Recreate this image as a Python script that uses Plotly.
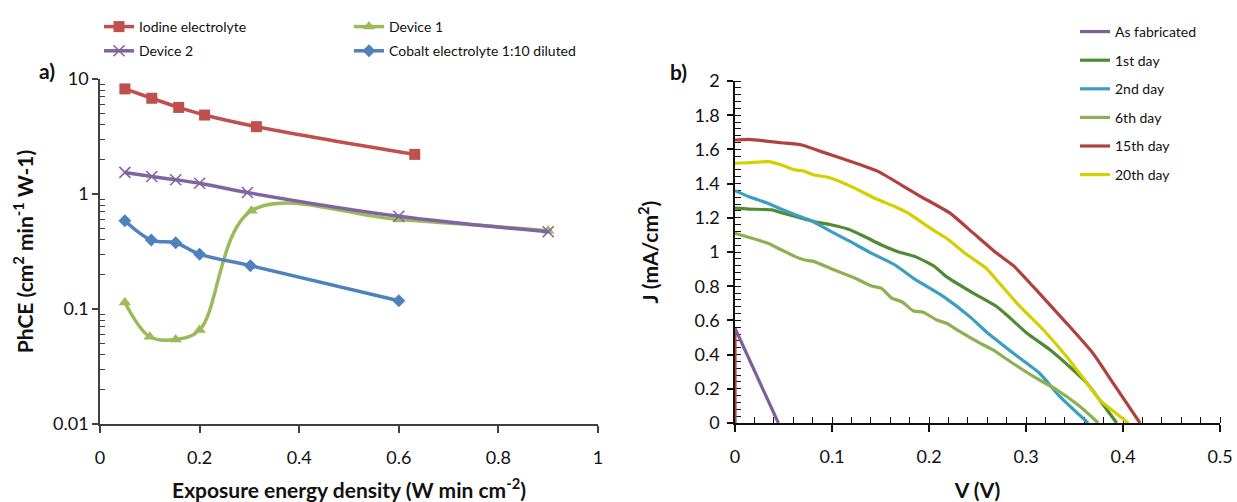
import plotly.graph_objects as go

W, H = 1237, 502

# ---------------- Panel a) data ----------------
iodine_x = [0.05, 0.104, 0.158, 0.21, 0.314, 0.632]
iodine_y = [8.2, 6.8, 5.66, 4.86, 3.85, 2.21]

device1_x = [0.05, 0.1, 0.152, 0.2, 0.304, 0.6, 0.9]
device1_y = [0.114, 0.0574, 0.0544, 0.0656, 0.716, 0.60, 0.48]

device2_x = [0.05, 0.104, 0.152, 0.2, 0.296, 0.6, 0.9]
device2_y = [1.54, 1.42, 1.33, 1.24, 1.03, 0.64, 0.47]

cobalt_x = [0.05, 0.103, 0.152, 0.2, 0.302, 0.6]
cobalt_y = [0.586, 0.398, 0.377, 0.30, 0.238, 0.118]

a_ytickvals = [0.01, 0.1, 1, 10]
a_yticktext = ["0.01", "0.1", "1", "10"]

# ---------------- Panel b) data ----------------
asfab_v = [0, 0.0447]
asfab_j = [0.554, 0]

day1_v = [0, 0.014, 0.038, 0.048, 0.065, 0.082, 0.1, 0.117, 0.134, 0.151, 0.168, 0.186,
          0.206, 0.218, 0.246, 0.27, 0.284, 0.301, 0.325, 0.345, 0.363, 0.376, 0.3935]
day1_j = [1.256, 1.251, 1.246, 1.23, 1.203, 1.177, 1.158, 1.133, 1.089, 1.041, 1.002, 0.973,
          0.914, 0.856, 0.758, 0.68, 0.612, 0.525, 0.427, 0.329, 0.232, 0.135, 0]

day2_v = [0, 0.014, 0.034, 0.048, 0.069, 0.079, 0.096, 0.117, 0.141, 0.165, 0.184, 0.215,
          0.242, 0.259, 0.287, 0.314, 0.335, 0.364]
day2_j = [1.359, 1.324, 1.285, 1.25, 1.203, 1.183, 1.129, 1.066, 0.992, 0.924, 0.846, 0.739,
          0.622, 0.534, 0.408, 0.291, 0.154, 0]

day6_v = [0, 0.014, 0.034, 0.048, 0.062, 0.072, 0.081, 0.1, 0.124, 0.141, 0.151, 0.162, 0.172,
          0.184, 0.194, 0.208, 0.218, 0.232, 0.253, 0.266, 0.284, 0.308, 0.332, 0.356, 0.3745]
day6_j = [1.109, 1.086, 1.051, 1.012, 0.973, 0.953, 0.945, 0.9, 0.846, 0.801, 0.787, 0.729, 0.709,
          0.655, 0.648, 0.602, 0.583, 0.534, 0.466, 0.427, 0.358, 0.271, 0.193, 0.095, 0]

day15_v = [0, 0, None, 0, 0.014, 0.048, 0.069, 0.089, 0.127, 0.148, 0.172, 0.192, 0.222, 0.246,
           0.270, 0.287, 0.3075, 0.342, 0.369, 0.39, 0.4175]
day15_j = [0, 0.53, None, 1.655, 1.659, 1.639, 1.626, 1.587, 1.515, 1.47, 1.39, 1.323, 1.226, 1.109,
           0.992, 0.92, 0.797, 0.583, 0.408, 0.232, 0]

day20_v = [0, 0.014, 0.034, 0.048, 0.062, 0.07, 0.082, 0.096, 0.124, 0.144, 0.165, 0.179, 0.199,
           0.218, 0.239, 0.259, 0.273, 0.294, 0.318, 0.342, 0.363, 0.376, 0.4055]
day20_j = [1.519, 1.522, 1.528, 1.509, 1.48, 1.475, 1.45, 1.437, 1.372, 1.314, 1.265, 1.226, 1.148,
           1.08, 0.985, 0.905, 0.815, 0.68, 0.544, 0.388, 0.232, 0.135, 0]

FONT = "Lato"
AX = "#404040"

fig = go.Figure()

def a_trace(x, y, name, color, symbol, size, legend, group, mline=None):
    marker = dict(symbol=symbol, size=size, color=color)
    if mline:
        marker["line"] = dict(width=1.6, color=color)
    return go.Scatter(
        x=x, y=y, name=name, mode="lines+markers",
        line=dict(color=color, width=3.5, shape="spline", smoothing=1.0),
        marker=marker, xaxis="x", yaxis="y", legend=legend, legendgroup=group)

fig.add_trace(a_trace(iodine_x, iodine_y, "Iodine electrolyte", "#C0504D", "square", 11, "legend", "g1"))
fig.add_trace(a_trace(device1_x, device1_y, "Device 1", "#9BBB59", "triangle-up", 11, "legend2", "g3"))
fig.add_trace(a_trace(device2_x, device2_y, "Device 2", "#8064A2", "x-thin", 11, "legend", "g2", mline=True))
fig.add_trace(a_trace(cobalt_x, cobalt_y, "Cobalt electrolyte 1:10 diluted", "#4F81BD", "diamond", 10, "legend2", "g4"))

def b_trace(v, j, name, color, group):
    fig.add_trace(go.Scatter(
        x=v, y=j, name=name, mode="lines", connectgaps=False,
        line=dict(color=color, width=3.2, shape="spline", smoothing=0.5),
        xaxis="x2", yaxis="y2", legend="legend3", legendgroup=group))

b_trace(asfab_v, asfab_j, "As fabricated", "#7E5EA0", "h1")
b_trace(day1_v, day1_j, "1st day", "#4F8A34", "h2")
b_trace(day2_v, day2_j, "2nd day", "#3C9EC0", "h3")
b_trace(day6_v, day6_j, "6th day", "#8DB050", "h4")
b_trace(day15_v, day15_j, "15th day", "#B0413E", "h5")
b_trace(day20_v, day20_j, "20th day", "#D4D000", "h6")

def px_x(p):
    return p / W

def px_y(p):
    return 1 - p / H

# log minor tick positions (2..9 within each decade)
minor_vals = [m * 10.0 ** e for e in (-2, -1, 0) for m in range(2, 10)]

tickfont = dict(family=FONT, size=18, color="#111")
titlefont = dict(family=FONT, size=21, color="#111", weight="bold")
legfont = dict(family=FONT, size=14, color="#111")

fig.update_layout(
    width=W, height=H,
    margin=dict(l=0, r=0, t=0, b=0),
    paper_bgcolor="white", plot_bgcolor="white",
    font=dict(family=FONT, color="#111"),
    xaxis=dict(
        domain=[px_x(100), px_x(598)], anchor="y", automargin=False,
        range=[0, 1], dtick=0.2, tick0=0,
        showgrid=False, zeroline=False,
        showline=True, linecolor=AX, linewidth=1.5,
        ticks="outside", ticklen=7, tickcolor=AX, tickwidth=1.5,
        ticklabelstandoff=10,
        tickfont=tickfont,
        title=dict(text="Exposure energy density (W min cm<sup>-2</sup>)", font=titlefont, standoff=19),
    ),
    yaxis=dict(
        domain=[px_y(424), px_y(79)], anchor="x", type="log", automargin=False,
        range=[-2, 1],
        tickmode="array", tickvals=a_ytickvals, ticktext=a_yticktext,
        showgrid=False, zeroline=False,
        showline=True, linecolor=AX, linewidth=1.5,
        ticks="outside", ticklen=6, tickcolor=AX, tickwidth=1.5,
        minor=dict(tickmode="array", tickvals=minor_vals, ticks="inside", ticklen=5,
                   tickcolor=AX, tickwidth=1.2, showgrid=False),
        tickfont=tickfont,
        title=dict(text="PhCE (cm<sup>2</sup> min<sup>-1</sup> W-1)", font=titlefont, standoff=14),
    ),
    xaxis2=dict(
        domain=[px_x(735), px_x(1220)], anchor="y2", automargin=False,
        range=[0, 0.5], dtick=0.1, tick0=0,
        showgrid=False, zeroline=False,
        showline=True, linecolor="#111", linewidth=1.5,
        ticks="outside", ticklen=7, tickcolor="#111", tickwidth=1.5,
        ticklabelstandoff=10,
        minor=dict(dtick=0.02, ticks="inside", ticklen=6, tickcolor="#111", tickwidth=1.2, showgrid=False),
        tickfont=tickfont, layer="below traces",
        title=dict(text="V (V)", font=titlefont, standoff=19),
    ),
    yaxis2=dict(
        domain=[px_y(423), px_y(81)], anchor="x2", automargin=False,
        range=[0, 2], dtick=0.2, tick0=0,
        showgrid=False, zeroline=False,
        showline=True, linecolor="#111", linewidth=1.5,
        ticks="outside", ticklen=6, tickcolor="#111", tickwidth=1.5,
        ticklabelstandoff=4,
        minor=dict(dtick=0.04, ticks="inside", ticklen=6, tickcolor="#111", tickwidth=1.2, showgrid=False),
        tickfont=tickfont, layer="below traces",
        title=dict(text="J (mA/cm<sup>2</sup>)", font=titlefont, standoff=30),
    ),
    legend=dict(x=px_x(99), xanchor="left", y=px_y(11), yanchor="top",
                font=legfont, bgcolor="rgba(0,0,0,0)",
                tracegroupgap=3, traceorder="grouped", itemwidth=30),
    legend2=dict(x=px_x(349), xanchor="left", y=px_y(11), yanchor="top",
                 font=legfont, bgcolor="rgba(0,0,0,0)",
                 tracegroupgap=3, traceorder="grouped", itemwidth=30),
    legend3=dict(x=px_x(1075), xanchor="left", y=px_y(16), yanchor="top",
                 font=legfont, bgcolor="rgba(0,0,0,0)",
                 tracegroupgap=7.4, traceorder="grouped", itemwidth=30),
    annotations=[
        dict(text="<b>a)</b>", x=px_x(37), y=px_y(56), xref="paper", yref="paper",
             showarrow=False, font=dict(family=FONT, size=21, color="#111")),
        dict(text="<b>b)</b>", x=px_x(678), y=px_y(57), xref="paper", yref="paper",
             showarrow=False, font=dict(family=FONT, size=21, color="#111")),
    ],
)

fig.write_html("out.html")
